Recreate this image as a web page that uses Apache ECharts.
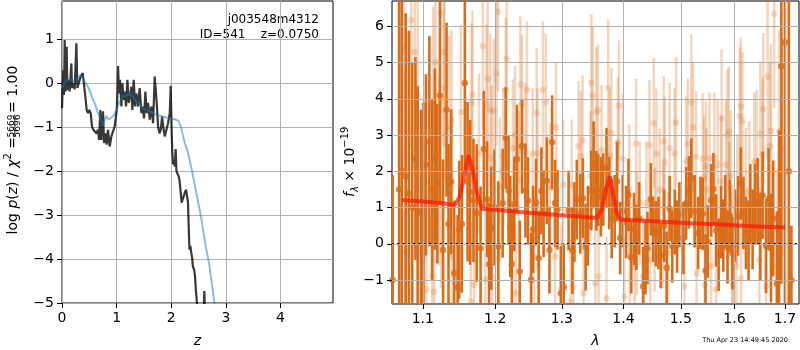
<!DOCTYPE html>
<html>
<head>
<meta charset="UTF-8">
<title>zfit j003548m4312 #541</title>
<script type="text/javascript" src="https://cdn.jsdelivr.net/npm/echarts@6.0.0/dist/echarts.min.js"></script>
<style>
	html, body { margin: 0; padding: 0; background: #fff; }
	#main { width: 800px; height: 350px; }
</style>
</head>
<body>
<div id="main"></div>
<script type="text/javascript">
// ---- left panel: log p(z) ----
var zDark = [0,0.012,0.024,0.037,0.049,0.067,0.085,0.098,0.122,0.14,0.171,0.183,0.208,0.232,0.263,0.281,0.305,0.342,0.379,0.403,
	0.427,0.452,0.476,0.5,0.525,0.549,0.574,0.598,0.629,0.659,0.678,0.702,0.72,0.751,0.769,0.794,0.818,0.842,0.873,0.904,
	0.934,0.965,1.001,1.013,1.026,1.044,1.062,1.087,1.105,1.129,1.148,1.172,1.197,1.221,1.245,1.27,1.288,1.313,1.337,1.361,
	1.392,1.422,1.453,1.477,1.502,1.526,1.551,1.575,1.606,1.636,1.667,1.697,1.716,1.734,1.758,1.783,1.807,1.832,1.856,1.88,
	1.911,1.941,1.972,1.99,
	2.005,2.02,2.035,2.05,2.065,2.08,2.095,2.11,2.13,2.15,2.17,2.19,2.21,2.225,2.245,2.27,2.29,2.305,2.32,2.333,
	2.35,2.365,2.38,2.395,2.42,2.435,2.45,2.47,2.5,2.56,2.59,2.605,2.62,2.7];
var pDark = [-0.57,-0.08,0.30,-0.27,0.98,-0.19,0.83,-0.15,0.08,-0.19,0.45,-0.11,0.0,-0.14,0.91,-0.11,-0.15,0.15,0.23,-0.04,
	-0.30,-0.61,-0.68,-0.61,-0.68,-0.98,-1.06,-1.10,-1.14,-1.06,-1.29,-0.61,-1.29,-0.64,-1.36,-1.14,-1.40,-1.06,-1.44,-1.21,
	-1.25,-0.98,-0.61,-0.30,0.39,-0.23,0.08,-0.53,0.0,-0.38,-0.19,-0.53,0.08,-0.45,-0.30,-0.08,-0.61,0.08,-0.53,-0.23,
	-0.53,-0.11,-0.68,-0.53,-0.80,-0.19,-0.68,-0.45,-0.83,-0.53,-0.91,0.15,0.19,-0.45,-0.98,-1.14,-1.06,-0.76,-1.02,-1.21,
	-1.06,-0.91,-0.68,-0.06,
	-1.0,-1.6,-1.85,-1.75,-1.9,-1.5,-2.0,-2.05,-2.1,-2.2,-2.45,-2.72,-2.7,-2.76,-2.5,-2.42,-2.38,-2.7,-3.3,-3.78,
	-3.7,-3.85,-3.95,-4.16,-4.25,-4.4,-4.7,-5.0,-5.3,-5.5,-5.3,-4.73,-5.4,-5.8];
var zBlue = [0,0.049,0.098,0.171,0.232,0.281,0.342,0.385,0.427,0.476,0.525,0.568,0.598,0.647,0.69,0.751,0.781,0.812,0.842,0.891,
	0.952,0.995,1.056,1.117,1.178,1.239,1.30,1.361,1.422,1.484,1.545,1.606,1.667,1.728,1.789,1.88,1.972,2.063,2.125,2.173,
	2.247,2.30,2.38,2.47,2.54,2.62,2.70,2.79,2.85];
var pBlue = [-0.11,0,0.08,0.08,0.04,0.11,0.19,0.11,0,-0.08,-0.23,-0.38,-0.45,-0.64,-0.77,-0.95,-0.83,-0.74,-0.82,-0.80,
	-0.72,-0.61,-0.42,-0.30,-0.27,-0.25,-0.30,-0.42,-0.49,-0.57,-0.61,-0.64,-0.68,-0.72,-0.74,-0.77,-0.80,-0.82,-0.85,-0.98,
	-1.36,-1.55,-2.0,-2.57,-3.0,-3.63,-4.16,-5.0,-5.5];
var zTicks = [0, 1, 2, 3, 4];
var pTicks = [-5, -4, -3, -2, -1, 0, 1];

// ---- right panel: spectrum (lambda in micron, flux x 1e-19) ----
var lamA = [1.0608,1.0691,1.0725,1.0776,1.0818,1.0861,1.0903,1.0932,1.0975,1.1008,
	1.1041,1.1087,1.1124,1.1160,1.1193,1.1229,1.1271,1.1318,1.1345,1.1381,
	1.1423,1.1470,1.1492,1.1529,1.1570,1.1608,1.1644,1.1691,1.1736,1.1791,
	1.1837,1.1884,1.1912,1.1943,1.1990,
	1.2044,1.2108,1.2153,1.2194,1.2219,1.2243,1.2279,1.2318,1.2359,1.2393,
	1.2444,1.2483,1.2529,1.2559,1.2604,1.2644,1.2685,1.2719,1.2769,1.2809,
	1.2850,1.2895,1.2934,1.2985,1.3032,1.3107,1.3167,1.3199,1.3237,1.3292,
	1.3334,1.3378,1.3415,1.3470,1.3507,1.3551,
	1.3583,1.3626,1.3665,1.3718,1.3762,1.3804,1.3853,1.3892,1.3945,1.3989,
	1.4045,1.4085,1.4132,1.4179,1.4220,1.4267,1.4336,1.4376,1.4411,1.4469,
	1.4510,1.4556,1.4603,1.4643,1.4702,1.4747,1.4800,1.4847,1.4894,1.4934,
	1.4974,1.5047,1.5097,1.5147,1.5190,1.5251,1.5315,1.5358,
	1.5400,1.5451,1.5494,1.5557,1.5600,1.5650,1.5698,1.5743,1.5786,1.5823,
	1.5866,1.5911,1.5959,1.6010,1.6069,1.6123,1.6174,1.6222,1.6273,1.6307,
	1.6352,1.6400,1.6451,1.6505,1.6550,1.6618,1.6669,1.6717,1.6762,1.6836,
	1.6881,1.6927,1.7000,1.7080,1.7133];
var fluxA = [-1.0,1.5,2.0,1.86,1.38,1.0,2.35,0.85,0.9,0.9,
	2.18,2.83,1.51,2.34,1.66,4.09,-0.17,3.70,0.55,1.71,
	-0.81,-1.2,0.39,0.55,4.44,1.72,1.42,1.2,0.85,-0.12,
	2.62,1.23,-0.56,0.43,1.0,
	-0.07,1.12,2.92,1.47,0.48,-0.56,1.1,2.34,-0.76,2.69,
	1.47,1.19,-0.99,0.4,1.15,-0.4,1.46,0.83,1.74,-0.17,
	2.8,1.12,0.94,-1.36,-1.2,0.92,-0.18,0.6,1.22,0.83,
	1.26,-0.09,0.5,1.47,2.18,1.46,
	1.49,1.3,1.5,2.1,1.4,0.7,0.9,1.72,0.16,0.9,
	0.6,1.35,-0.37,0.41,0.18,0.7,-1.18,-0.4,-0.12,1.23,
	0.4,0.28,0.3,-0.33,0.5,-0.66,0.97,-0.07,0.6,0.2,
	0.8,0.16,1.12,1.42,1.81,0.9,0.3,0.85,
	0.83,-0.74,0.06,1.2,1.51,0.37,-0.3,0.6,0.23,0.9,
	-0.1,0.77,-0.26,0.5,0.77,1.66,0.85,0.3,0.1,1.1,
	0.4,1.1,1.17,0.2,1.34,-0.06,1.24,-0.12,0.7,-1.1,
	0.13,4.9,5.56,2.0,-1.0];
var errA = [2.9,6.0,5.5,4.5,4.5,4.0,2.8,3.5,2.8,3.0,
	2.5,2.9,2.5,2.5,2.2,3.0,2.5,2.4,2.2,2.0,
	2.0,2.0,1.9,1.9,2.4,2.2,2.0,1.7,1.9,1.7,
	1.6,1.6,1.7,1.7,1.6,
	1.8,1.5,1.4,1.5,1.4,1.5,1.3,1.5,1.4,1.3,
	1.3,1.2,1.3,1.2,1.2,1.3,1.2,1.2,1.2,1.2,
	1.3,1.2,1.1,1.3,1.2,1.1,1.2,1.1,1.1,1.1,
	1.1,1.2,1.1,1.1,1.2,1.1,
	1.0,1.1,1.0,1.1,1.0,1.1,1.0,1.1,1.0,1.0,
	1.0,1.0,1.0,1.0,0.9,1.0,1.1,1.0,1.0,1.0,
	0.9,0.9,1.0,0.9,1.0,1.0,0.9,1.0,0.9,1.0,
	0.9,1.0,1.0,1.0,1.1,1.0,1.0,1.0,
	1.0,1.0,1.0,1.0,1.0,1.0,1.0,1.0,1.0,1.0,
	1.0,1.0,1.0,1.0,1.1,1.0,1.0,1.0,1.1,1.1,
	1.1,1.1,1.2,1.2,1.2,1.3,1.4,1.5,1.6,2.0,
	3.0,6.0,8.0,8.0,1.5];

var lamB = [1.0754,1.0770,1.0782,1.0848,1.0894,1.0932,1.1008,1.1046,1.1124,1.1140,
	1.1152,1.1170,1.1215,1.1233,1.1245,1.1280,1.1290,1.1354,1.1387,1.1395,
	1.1515,1.1653,1.1663,1.1677,1.1699,1.1768,1.1823,1.1860,1.1874,1.1892,
	1.1930,1.1948,1.1958,1.1981,1.2018,1.2040,1.2048,1.2069,1.2119,1.2153,
	1.2168,1.2258,1.2290,1.2298,1.2344,1.2369,1.2393,1.2444,1.2468,1.2554,
	1.2569,1.2614,1.2624,1.2644,1.2709,1.2754,1.2820,1.2895,1.2910,1.2994,
	1.3021,1.3139,1.3156,1.3183,1.3264,1.3301,1.3329,1.3345,1.3454,1.3470,
	1.3491,1.3535,1.3551,1.3578,1.3588,1.3637,1.3718,1.3746,1.3771,1.3799,
	1.3907,1.3924,1.3989,1.4016,1.4098,1.4108,1.4190,1.4215,1.4225,1.4277,
	1.4336,1.4394,1.4446,1.4456,1.4521,1.4538,1.4568,1.4625,1.4685,1.4695,
	1.4712,1.4772,1.4800,1.4887,1.4916,1.5065,1.5097,1.5128,1.5190,1.5222,
	1.5278,1.5288,1.5400,1.5427,1.5437,1.5459,1.5469,1.5525,1.5557,1.5618,
	1.5650,1.5680,1.5743,1.5754,1.5836,1.5866,1.5893,1.5903,1.5929,1.5954,
	1.5964,1.6036,1.6055,1.6103,1.6118,1.6128,1.6154,1.6222,1.6287,1.6386,
	1.6432,1.6485,1.6505,1.6551,1.6564,1.6618,1.6650,1.6697,1.6717,1.6782,
	1.6848,1.6881,1.6947];
var fluxB = [5.45,0.85,-0.23,6.17,5.29,4.14,-0.40,-1.25,-0.90,3.75,
	-1.32,5.02,2.00,6.37,1.37,5.29,4.30,3.24,3.40,-0.35,
	3.64,-1.59,3.89,4.13,-1.13,2.50,5.45,-0.98,3.86,4.55,
	3.70,2.37,-0.90,3.66,4.71,6.40,-0.40,1.58,2.41,4.24,
	5.10,2.64,3.01,-1.36,1.77,4.39,3.86,2.55,4.25,2.49,
	-0.35,3.61,2.50,-0.63,4.25,3.89,1.54,-0.35,3.22,-1.27,
	1.63,-1.59,1.63,-1.18,2.69,2.41,2.85,-1.36,1.88,4.44,
	4.09,-1.09,3.63,3.70,-0.90,2.58,-1.50,4.30,2.44,3.06,
	2.80,3.81,2.34,-1.45,1.49,-0.35,-0.63,2.76,0.29,1.12,
	-0.90,1.12,2.73,-0.44,3.33,0.39,2.48,1.49,0.48,2.83,
	2.26,-0.26,2.64,2.49,3.35,-1.18,2.27,2.76,3.89,3.22,
	2.41,-0.81,2.35,1.81,-1.13,2.14,1.49,2.37,-0.61,2.37,
	-1.25,2.18,1.72,3.47,2.18,3.01,3.10,1.12,1.88,-0.07,
	-1.13,-0.63,1.22,3.52,3.79,-0.95,3.38,1.40,1.49,2.27,
	2.25,-0.44,3.03,2.48,3.72,-1.18,4.62,2.69,3.12,6.35,
	-0.63,3.10,2.64];
var errB = [3.5,3.8,3.5,3.5,3.2,3.2,3.0,3.0,2.8,2.8,
	2.8,2.8,2.6,2.8,2.6,2.6,2.6,2.5,2.5,2.4,
	2.4,2.2,2.2,2.3,2.2,2.2,2.3,2.1,2.2,2.2,
	2.1,2.0,2.0,2.0,2.0,2.2,2.0,1.9,1.9,2.0,
	2.0,1.9,1.9,1.9,1.9,1.9,1.9,1.9,1.9,1.8,
	1.8,1.8,1.8,1.8,1.9,1.9,1.8,1.8,1.8,1.8,
	1.8,1.7,1.8,1.7,1.8,1.8,1.8,1.7,1.8,1.9,
	1.9,1.7,1.8,1.8,1.7,1.8,1.7,1.9,1.8,1.8,
	1.8,1.8,1.8,1.7,1.8,1.7,1.7,1.8,1.7,1.7,
	1.7,1.7,1.8,1.7,1.8,1.7,1.8,1.7,1.7,1.8,
	1.8,1.7,1.8,1.8,1.8,1.7,1.8,1.8,1.9,1.8,
	1.8,1.7,1.8,1.7,1.7,1.8,1.7,1.8,1.7,1.8,
	1.7,1.8,1.8,1.9,1.8,1.8,1.8,1.7,1.8,1.7,
	1.7,1.8,1.8,1.9,1.9,1.8,1.9,1.8,1.9,1.9,
	2.0,2.0,2.0,2.1,2.1,2.2,2.3,2.3,2.4,2.6,
	2.7,2.8,3.0];

var lamModel = [1.073,1.100,1.130,1.143,1.150,1.156,1.162,1.168,1.174,1.181,1.200,1.250,1.300,1.350,
	1.357,1.365,1.371,1.377,1.383,1.389,1.395,1.450,1.500,1.550,1.600,1.650,1.700];
var fluxModel = [1.21,1.17,1.11,1.07,1.30,1.85,2.45,2.05,1.40,0.97,0.94,0.86,0.79,0.72,
	0.72,1.00,1.50,1.86,1.35,0.85,0.67,0.62,0.58,0.55,0.51,0.48,0.45];

var lamTicks = [1.1, 1.2, 1.3, 1.4, 1.5, 1.6, 1.7];
var fTicks = [-1, 0, 1, 2, 3, 4, 5, 6];
var lamRange = [1.06, 1.729];
var fRange = [-1.66, 6.7];

var FONT = 'DejaVu Sans';
var ORANGE = '217,108,25';

function lg(v) { return Math.log10(v); }
function minus(v) { return v < 0 ? '\u2212' + Math.abs(v) : String(v); }
function pairs(xs, ys, fx) {
	return xs.map(function (x, i) { return [fx ? fx(x) : x, ys[i]]; });
}

function axis(grid, min, max, ticks, fmt, z) {
	return {
		gridIndex: grid, type: 'value', min: min, max: max, z: z || 0,
		axisLine: { show: false, onZero: false },
		axisTick: { show: true, length: 5, customValues: ticks, lineStyle: { color: '#000', width: 1 } },
		axisLabel: { color: '#000', fontSize: 14, fontFamily: FONT, margin: 8, customValues: ticks, formatter: fmt },
		splitLine: { show: true, lineStyle: { color: '#b0b0b0', width: 1 } }
	};
}

// error bars as thin rectangles, clipped to the plot box
function errorBars(lam, flux, err, color, w, z) {
	return {
		type: 'custom', xAxisIndex: 1, yAxisIndex: 1, z: z, silent: true,
		data: lam.map(function (l, i) { return [lg(l), flux[i] - err[i], flux[i] + err[i]]; }),
		renderItem: function (params, api) {
			var lo = api.coord([api.value(0), api.value(1)]);
			var hi = api.coord([api.value(0), api.value(2)]);
			var cs = params.coordSys;
			var top = Math.max(hi[1], cs.y), bot = Math.min(lo[1], cs.y + cs.height);
			var left = Math.max(lo[0] - w / 2, cs.x), right = Math.min(lo[0] + w / 2, cs.x + cs.width);
			if (bot <= top || right <= left) return null;
			return { type: 'rect', shape: { x: left, y: top, width: right - left, height: bot - top }, style: { fill: color } };
		}
	};
}

function points(lam, flux, color, z) {
	return {
		type: 'scatter', xAxisIndex: 1, yAxisIndex: 1, z: z, silent: true,
		symbol: 'circle', symbolSize: 6.5, itemStyle: { color: color },
		data: pairs(lam, flux, lg)
	};
}

function txt(x, y, s, o) {
	o = o || {};
	return {
		type: 'text', x: x, y: y, rotation: o.rot || 0, silent: true,
		style: {
			text: s, fill: '#000', fontFamily: FONT, fontSize: o.size || 14,
			fontStyle: o.italic ? 'italic' : 'normal',
			align: o.align || 'center', verticalAlign: 'middle',
			textAlign: o.align || 'center', textVerticalAlign: 'middle',
			rich: o.rich
		}
	};
}

var rich = {
	a: { fontSize: 14, fontFamily: FONT, lineHeight: 20 },
	i: { fontSize: 14, fontFamily: FONT, fontStyle: 'italic', lineHeight: 20 },
	sup: { fontSize: 10, fontFamily: FONT, lineHeight: 10, verticalAlign: 'top' },
	sub: { fontSize: 10, fontFamily: FONT, fontStyle: 'italic', lineHeight: 10, verticalAlign: 'bottom' }
};
var R = Math.PI / 2;

var myChart = echarts.init(document.getElementById('main'));
var option = {
	animation: false,
	backgroundColor: '#fff',
	textStyle: { fontFamily: FONT },
	grid: [
		{ left: 62, top: 1, width: 271, height: 302, show: true, borderColor: '#000', borderWidth: 1, backgroundColor: 'transparent' },
		{ left: 392, top: 1, width: 407, height: 303, show: true, borderColor: '#000', borderWidth: 1, backgroundColor: 'transparent' }
	],
	xAxis: [
		axis(0, 0, 4.96, zTicks, minus),
		axis(1, lg(lamRange[0]), lg(lamRange[1]), lamTicks.map(lg), function (v) { return Math.pow(10, v).toFixed(1); }, 5.5)
	],
	yAxis: [
		axis(0, -5, 1.87, pTicks, minus),
		axis(1, fRange[0], fRange[1], fTicks, minus, 5.5)
	],
	series: [
		{
			type: 'line', xAxisIndex: 0, yAxisIndex: 0, z: 2, silent: true, showSymbol: false,
			lineStyle: { color: 'rgba(0,0,0,0.78)', width: 2.2 },
			data: pairs(zDark, pDark)
		},
		{
			type: 'line', xAxisIndex: 0, yAxisIndex: 0, z: 3, silent: true, showSymbol: false,
			lineStyle: { color: 'rgba(31,119,180,0.5)', width: 2 },
			data: pairs(zBlue, pBlue)
		},
		errorBars(lamB, fluxB, errB, 'rgba(' + ORANGE + ',0.28)', 2.6, 2),
		points(lamB, fluxB, 'rgba(' + ORANGE + ',0.28)', 3),
		errorBars(lamA, fluxA, errA, 'rgb(' + ORANGE + ')', 2.6, 4),
		points(lamA, fluxA, 'rgb(' + ORANGE + ')', 5),
		{
			type: 'line', xAxisIndex: 1, yAxisIndex: 1, z: 6, silent: true, showSymbol: false,
			lineStyle: { color: 'rgba(255,20,0,0.7)', width: 4 },
			data: pairs(lamModel, fluxModel, lg),
			markLine: {
				silent: true, symbol: ['none', 'none'], label: { show: false },
				lineStyle: { color: '#000', width: 2, type: [2, 3.3], opacity: 1 },
				data: [{ yAxis: 0 }]
			}
		}
	],
	graphic: [
		txt(319, 20, 'j003548m4312', { size: 12, align: 'right' }),
		txt(319, 35, 'ID=541    z=0.0750', { size: 12, align: 'right' }),
		txt(197.5, 341, 'z', { italic: true }),
		txt(595.5, 341, '\u03bb', { italic: true }),
		txt(13, 137, '{a|log }{i|p}{a|(}{i|z}{a|) / }{i|\u03c7}{sup|2}{a| =}', { align: 'right', rot: R, rich: rich }),
		txt(11.5, 126, '5669', { size: 9, rot: R }),
		txt(18, 126, '5696', { size: 9, rot: R }),
		{ type: 'line', silent: true, shape: { x1: 14.8, y1: 114.5, x2: 14.8, y2: 137 }, style: { stroke: '#000', lineWidth: 0.8 } },
		txt(13, 113, '= 1.00', { align: 'left', rot: R }),
		txt(350, 197, '{i|f}{sub|\u03bb}{a| \u00d7 10}{sup|\u221219}', { align: 'left', rot: R, rich: rich }),
		txt(788, 340, 'Thu Apr 23 14:49:45 2020', { size: 6.5, align: 'right' })
	]
};
myChart.setOption(option);
</script>
</body>
</html>
